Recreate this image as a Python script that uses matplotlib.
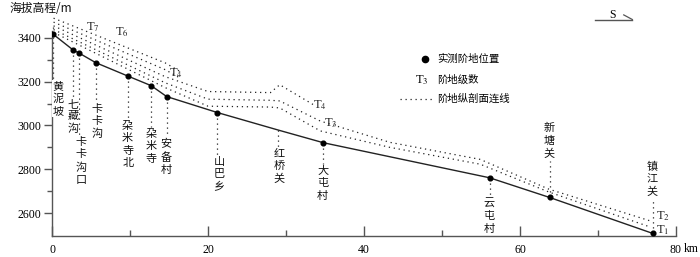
import matplotlib
matplotlib.use("Agg")
import matplotlib.pyplot as plt

plt.rcParams["font.family"] = ["Noto Sans CJK SC", "DejaVu Sans"]
plt.rcParams["mathtext.fontset"] = "stix"

# --- data ---------------------------------------------------------------
names = ["黄泥坡", "七藏沟", "卡卡沟口", "卡卡沟", "朶米寺北", "朶米寺", "安备村",
         "山巴乡", "红桥关", "大屯村", "云屯村", "新塘关", "镇江关"]
dist = [0.1, 2.7, 3.5, 5.6, 9.7, 12.7, 14.7, 21.2, 29.0, 34.8, 56.1, 63.8, 77.0]
elev = [3418, 3345, 3330, 3287, 3226, 3182, 3132, 3059, 2979, 2921, 2761, 2671, 2507]
measured = [1, 1, 1, 1, 1, 1, 1, 1, 0, 1, 1, 1, 1]
label_x = [0.8, 2.7, 3.7, 5.8, 9.7, 12.7, 14.6, 21.4, 29.1, 34.7, 56.0, 63.7, 76.9]
label_y = [3203, 3121, 2947, 3098, 3021, 2984, 2938, 2856, 2893, 2815, 2664, 2847, 2673]
label_above = [0, 0, 0, 0, 0, 0, 0, 0, 0, 0, 0, 1, 1]

# terrace longitudinal profile lines (km, m)
t_a_x = [0.2, 14.5, 16.5]
t_a_y = [3490, 3286, 3245]
t_b_x = [0.2, 14.5, 16.5]
t_b_y = [3472, 3255, 3215]
p1_x = [0.2, 14.5, 20.0, 28.0, 29.2, 33.5]
p1_y = [3455, 3223, 3155, 3150, 3186, 3095]
p2_x = [0.2, 14.5, 20.0, 28.0, 29.2, 34.4, 43.3, 54.9, 63.7, 76.7]
p2_y = [3438, 3195, 3120, 3115, 3112, 3020, 2923, 2845, 2709, 2564]
p3_x = [0.2, 14.5, 20.0, 28.0, 29.2, 34.4, 43.3, 54.9, 63.7, 76.7]
p3_y = [3425, 3173, 3088, 3084, 3080, 2975, 2900, 2823, 2696, 2536]
terrace_lines = [(t_a_x, t_a_y), (t_b_x, t_b_y), (p1_x, p1_y),
                 (p2_x, p2_y), (p3_x, p3_y)]

t_labels = ["7", "6", "4", "4", "3", "2", "1"]
t_label_x = [5.3, 9.0, 15.9, 34.4, 35.8, 78.3, 78.3]
t_label_y = [3448, 3426, 3240, 3095, 3012, 2585, 2524]

xticks = [0, 20, 40, 60, 80]
yticks = [2600, 2800, 3000, 3200, 3400]

# --- figure -------------------------------------------------------------
fig = plt.figure(figsize=(7.0, 2.57), dpi=100)
ax = fig.add_axes([52 / 700, 21 / 257, 624 / 700, 220 / 257])
ax.set_xlim(0, 80)
ax.set_ylim(2495, 3500)

dot_style = (0, (1, 3))
for xs, ys in terrace_lines:
    ax.plot(xs, ys, color="#222", lw=0.9, ls=dot_style)

ax.plot(dist, elev, color="#222", lw=1.0, zorder=3)
ax.plot([d for d, m in zip(dist, measured) if m],
        [e for e, m in zip(elev, measured) if m],
        "o", color="black", ms=3.4, zorder=4)

for i, name in enumerate(names):
    if label_above[i]:
        ax.plot([dist[i], dist[i]], [elev[i], label_y[i] - 8],
                color="#222", lw=0.9, ls=dot_style)
        va = "bottom"
    else:
        top = 3450 if i == 0 else elev[i]
        ax.plot([dist[i], dist[i]], [top, label_y[i] + 8],
                color="#222", lw=0.9, ls=dot_style)
        va = "top"
    ax.text(label_x[i], label_y[i], "\n".join(name), ha="center", va=va,
            fontsize=8, linespacing=1.3, color="#111",
            bbox=dict(facecolor="white", edgecolor="none", pad=0.5))

for s, x, y in zip(t_labels, t_label_x, t_label_y):
    ax.text(x, y, r"T$_{%s}$" % s, ha="center", va="center", fontsize=9,
            family=["Liberation Serif"], color="#222")

# legend
ax.plot([47.8], [3304], "o", color="black", ms=4.5)
ax.text(49.4, 3304, "实测阶地位置", va="center", fontsize=7.5)
ax.text(47.4, 3208, r"T$_{3}$", ha="center", va="center", fontsize=9,
        family=["Liberation Serif"])
ax.text(49.4, 3208, "阶地级数", va="center", fontsize=7.5)
ax.plot([44.6, 48.8], [3121, 3121], color="#222", lw=0.9, ls=dot_style)
ax.text(49.4, 3121, "阶地纵剖面连线", va="center", fontsize=7.5)

# direction mark
ax.plot([69.6, 74.4], [3482, 3482], color="#555", lw=1.0, clip_on=False)
ax.plot([73.3, 74.4], [3505, 3484], color="#555", lw=0.9, clip_on=False)
ax.text(71.9, 3505, "S", ha="center", va="center", fontsize=8.5,
        family=["Liberation Serif"], clip_on=False)

# axes
for side in ("top", "right"):
    ax.spines[side].set_visible(False)
ax.spines["left"].set_bounds(2495, 3430)
for side in ("left", "bottom"):
    ax.spines[side].set_color("#555")
    ax.spines[side].set_linewidth(1.0)

ax.set_xticks(xticks)
ax.set_xticks([10, 30, 50, 70], minor=True)
ax.set_yticks(yticks)
ax.set_yticks([2700, 2900, 3100, 3300], minor=True)
ax.tick_params(axis="x", which="major", direction="in", length=7.5, width=1.0,
               color="#555", pad=6)
ax.tick_params(axis="x", which="minor", direction="in", length=4.5, width=1.0,
               color="#555")
ax.tick_params(axis="y", which="major", direction="out", length=5.5, width=1.0,
               color="#555", pad=2)
ax.tick_params(axis="y", which="minor", direction="out", length=3.5, width=1.0,
               color="#555")
for lab in ax.get_xticklabels() + ax.get_yticklabels():
    lab.set_family(["Liberation Serif"])
    lab.set_fontsize(8.5)
ax.text(81.0, 2495 - 31, "km", ha="left", va="top", fontsize=8.5,
        family=["Liberation Serif"], clip_on=False)

fig.text(10 / 700, 1 - 8 / 257, "海拔高程/m", ha="left", va="center",
         fontsize=8.5, color="#111")

fig.savefig("out.png", dpi=100, facecolor="white")
